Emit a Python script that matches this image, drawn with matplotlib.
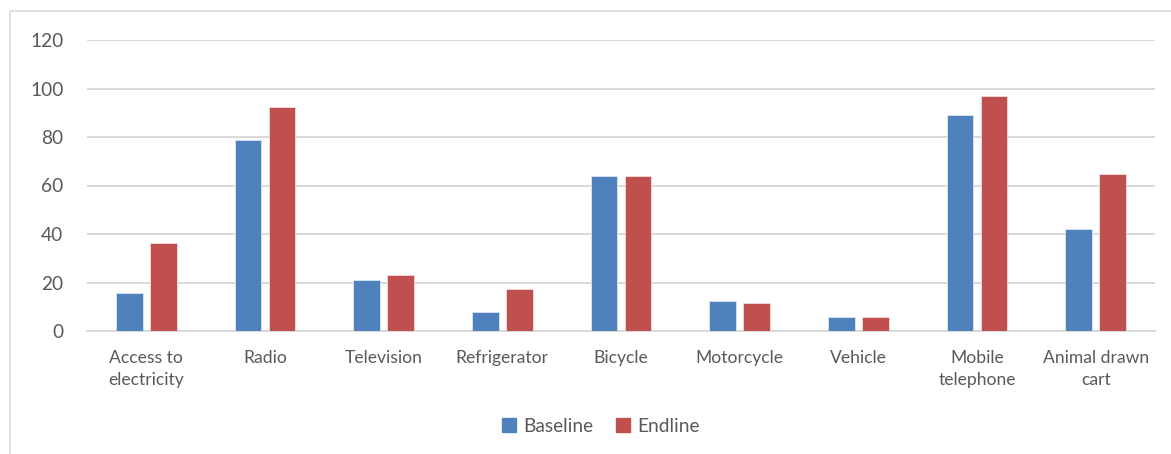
import matplotlib
matplotlib.use("Agg")
import matplotlib.pyplot as plt
from matplotlib.patches import Rectangle, Patch
import numpy as np

categories = ["Access to\nelectricity", "Radio", "Television", "Refrigerator",
              "Bicycle", "Motorcycle", "Vehicle", "Mobile\ntelephone",
              "Animal drawn\ncart"]
baseline = [15.7, 78.8, 21.0, 7.9, 64.0, 12.4, 5.8, 88.9, 41.9]
endline = [36.3, 92.2, 23.1, 17.4, 64.0, 11.7, 5.9, 97.0, 64.6]
yticks = [0, 20, 40, 60, 80, 100, 120]

BLUE = "#4F81BD"
RED = "#C0504D"
GRID = "#D9D9D9"
TEXT = "#595959"

plt.rcParams["font.family"] = ["Lato", "DejaVu Sans"]

W, H = 1171, 454
fig = plt.figure(figsize=(W / 100, H / 100), dpi=100)

# outer chart frame
fig.patches.append(Rectangle((10 / W, -0.05), 1.2, (H - 11) / H + 0.05,
                             transform=fig.transFigure, fill=False,
                             edgecolor=GRID, linewidth=1.2))

ax = fig.add_axes([87 / W, (H - 331) / H, (1155 - 87) / W, (331 - 40) / H])
x = np.arange(len(categories))
bw = 0.223
off = bw / 2 + 0.032
ax.bar(x - off, baseline, bw, color=BLUE, edgecolor="#DCE6F2", linewidth=0.6,
       label="Baseline", zorder=3)
ax.bar(x + off, endline, bw, color=RED, edgecolor="#F2DCDB", linewidth=0.6,
       label="Endline", zorder=3)

ax.set_xlim(-0.5, len(categories) - 0.5)
ax.set_ylim(0, 120)
ax.set_yticks(yticks)
ax.set_xticks(x)
ax.set_xticklabels(categories, linespacing=1.45)
ax.yaxis.grid(True, color=GRID, linewidth=1.4, zorder=0)
for s in ["top", "right", "left"]:
    ax.spines[s].set_visible(False)
ax.spines["bottom"].set_color(GRID)
ax.spines["bottom"].set_linewidth(1.4)
ax.tick_params(axis="both", length=0, colors=TEXT)
ax.tick_params(axis="y", pad=17, labelsize=13.8)
ax.tick_params(axis="x", pad=14, labelsize=12.6)

handles = [Patch(color=BLUE), Patch(color=RED)]
fig.legend(handles, ["Baseline", "Endline"], loc="center",
           bbox_to_anchor=(601 / W, 1 - 426 / H), ncol=2, frameon=False,
           handlelength=0.7, handleheight=0.7, handletextpad=0.4,
           columnspacing=1.2, labelcolor=TEXT, fontsize=13.8)

fig.savefig("out.png", dpi=100)
